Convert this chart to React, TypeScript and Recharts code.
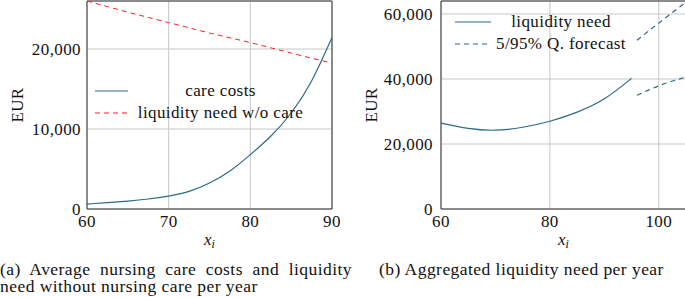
import React from "react"
import {
  CartesianGrid,
  Label,
  Legend,
  Line,
  LineChart,
  ReferenceArea,
  XAxis,
  YAxis,
} from "recharts"

// (a) care costs and liquidity need without care
const ages = [60, 62.5, 65, 67.5, 70, 72.5, 75, 77.5, 80, 82.5, 85, 87.5, 90]
const careCosts = [620, 790, 990, 1250, 1620, 2200, 3250, 4750, 6800, 9100, 12000, 16000, 21440]
const needNoCare = [26000, 25300, 24600, 23950, 23300, 22650, 22000, 21400, 20800, 20150, 19500, 18850, 18250]
const ticksXa = [60, 70, 80, 90]
const ticksYa = [0, 10000, 20000]

// (b) aggregated liquidity need
const needAges = [60, 65, 70, 75, 80, 85, 90, 95]
const needValues = [26400, 24800, 24250, 25150, 27000, 29800, 33900, 40200]
const forecastAges = [96, 98, 100, 102, 104, 105]
const forecastUpper = [51900, 54600, 57200, 59800, 62400, 63600]
const forecastLower = [35000, 36500, 37900, 39100, 40100, 40600]
const ticksXb = [60, 80, 100]
const ticksYb = [0, 20000, 40000, 60000]

const FONT = "'Liberation Serif', serif"
const BLUE = "#2a6b88"
const RED = "#ff2020"
const GRID = "#c6c6c6"
const FRAME = "#333"
const LS = 0.4

const dataA = ages.map((x, i) => ({ x, care: careCosts[i], noCare: needNoCare[i] }))

const dataB = (() => {
  const rows: Record<number, any> = {}
  needAges.forEach((x, i) => {
    rows[x] = { ...(rows[x] || { x }), need: needValues[i] }
  })
  forecastAges.forEach((x, i) => {
    rows[x] = { ...(rows[x] || { x }), upper: forecastUpper[i], lower: forecastLower[i] }
  })
  return Object.values(rows).sort((a: any, b: any) => a.x - b.x)
})()

const fmt = (v: number) => v.toLocaleString("en-US")
const tickStyle = { fontSize: 17, fill: "#111", fontFamily: FONT, letterSpacing: LS }

const XiLabel = (props: any) => {
  const { x, y, width } = props.viewBox
  return (
    <text x={x + width / 2} y={y + 36} textAnchor="middle" fontFamily={FONT} fill="#111">
      <tspan fontStyle="italic" fontSize={17}>x</tspan>
      <tspan fontStyle="italic" fontSize={12} dy={3}>i</tspan>
    </text>
  )
}

const EurLabel = (cx: number) => (props: any) => {
  const { x, y, height } = props.viewBox
  const px = x + cx
  const py = y + height / 2
  return (
    <text
      x={px}
      y={py}
      transform={`rotate(-90 ${px} ${py})`}
      textAnchor="middle"
      dominantBaseline="central"
      fontFamily={FONT}
      fontSize={17}
      letterSpacing={LS}
      fill="#111"
    >
      EUR
    </text>
  )
}

const legendContent = (order: string[], sampleW: number, gap: number, textW: number) => (props: any) => {
  const items = (props.payload || [])
    .filter((e: any) => e.type !== "none")
    .sort((a: any, b: any) => order.indexOf(a.dataKey) - order.indexOf(b.dataKey))
  return (
    <div style={{ fontFamily: FONT, fontSize: 17, letterSpacing: LS, color: "#111" }}>
      {items.map((e: any, i: number) => (
        <div key={i} style={{ display: "flex", alignItems: "center", height: 22 }}>
          <svg width={sampleW} height={22} style={{ display: "block", flex: "none" }}>
            <line
              x1={0}
              x2={sampleW}
              y1={11}
              y2={11}
              stroke={e.color}
              strokeWidth={1.2}
              strokeDasharray={e.payload?.strokeDasharray}
            />
          </svg>
          <span style={{ width: textW, marginLeft: gap, textAlign: "center", whiteSpace: "nowrap", lineHeight: "22px" }}>
            {e.value}
          </span>
        </div>
      ))}
    </div>
  )
}

const App = () => {
  return (
    <div
      style={{
        position: "absolute",
        left: 0,
        top: 0,
        width: 685,
        height: 297,
        overflow: "hidden",
        background: "#fff",
        fontFamily: FONT,
        color: "#111",
      }}
    >
      <div style={{ position: "absolute", left: 0, top: 0 }}>
        <LineChart width={340} height={254} data={dataA} margin={{ top: 1, right: 8, bottom: 0, left: 0 }}>
          <CartesianGrid stroke={GRID} />
          <XAxis
            dataKey="x"
            type="number"
            domain={[60, 90]}
            ticks={ticksXa}
            interval={0}
            height={45}
            tickSize={4}
            tickMargin={2}
            tickLine={false}
            axisLine={false}
            tick={tickStyle}
          >
            <Label content={<XiLabel />} />
          </XAxis>
          <YAxis
            type="number"
            domain={[0, 26000]}
            ticks={ticksYa}
            interval={0}
            width={87}
            tickSize={4}
            tickMargin={2}
            tickLine={false}
            axisLine={false}
            tick={tickStyle}
            tickFormatter={fmt}
            allowDataOverflow
          >
            <Label content={EurLabel(17)} />
          </YAxis>
          <ReferenceArea x1={60} x2={90} y1={0} y2={26000} fill="none" stroke={FRAME} strokeWidth={1} />
          <Legend
            layout="horizontal"
            verticalAlign="middle"
            align="center"
            wrapperStyle={{ left: 95, top: 80, width: 230 }}
            content={legendContent(["care", "noCare"], 33, 6, 173)}
          />
          <Line
            name="care costs"
            dataKey="care"
            type="natural"
            stroke={BLUE}
            strokeWidth={1.2}
            dot={false}
            isAnimationActive={false}
          />
          <Line
            name="liquidity need w/o care"
            dataKey="noCare"
            type="monotone"
            stroke={RED}
            strokeWidth={1}
            strokeDasharray="5 4"
            dot={false}
            isAnimationActive={false}
          />
        </LineChart>
      </div>

      <div style={{ position: "absolute", left: 340, top: 0 }}>
        <LineChart width={346} height={254} data={dataB} margin={{ top: 1, right: 0, bottom: 0, left: 0 }}>
          <CartesianGrid stroke={GRID} />
          <XAxis
            dataKey="x"
            type="number"
            domain={[60, 105]}
            ticks={ticksXb}
            interval={0}
            height={45}
            tickSize={4}
            tickMargin={2}
            tickLine={false}
            axisLine={false}
            tick={tickStyle}
          >
            <Label content={<XiLabel />} />
          </XAxis>
          <YAxis
            type="number"
            domain={[0, 64000]}
            ticks={ticksYb}
            interval={0}
            width={101}
            tickSize={5}
            tickMargin={3}
            tickLine={false}
            axisLine={false}
            tick={tickStyle}
            tickFormatter={fmt}
            allowDataOverflow
          >
            <Label content={EurLabel(31)} />
          </YAxis>
          <ReferenceArea x1={60} x2={105} y1={0} y2={64000} fill="none" stroke={FRAME} strokeWidth={1} />
          <Legend
            layout="horizontal"
            verticalAlign="middle"
            align="center"
            wrapperStyle={{ left: 115, top: 11, width: 190 }}
            content={legendContent(["need", "upper"], 36, 3, 134)}
          />
          <Line
            name="liquidity need"
            dataKey="need"
            type="natural"
            stroke={BLUE}
            strokeWidth={1.2}
            dot={false}
            isAnimationActive={false}
          />
          <Line
            name="5/95% Q. forecast"
            dataKey="upper"
            type="monotone"
            stroke={BLUE}
            strokeWidth={1.2}
            strokeDasharray="5 4"
            dot={false}
            isAnimationActive={false}
          />
          <Line
            name="lower forecast"
            dataKey="lower"
            type="monotone"
            stroke={BLUE}
            strokeWidth={1.2}
            strokeDasharray="5 4"
            dot={false}
            legendType="none"
            isAnimationActive={false}
          />
        </LineChart>
      </div>

      <div
        style={{
          position: "absolute",
          left: 0,
          top: 261,
          width: 352,
          fontSize: 17.5,
          letterSpacing: 0.45,
          lineHeight: "17.3px",
          textAlign: "justify",
        }}
      >
        (a) Average nursing care costs and liquidity need without nursing care per year
      </div>
      <div
        style={{
          position: "absolute",
          left: 379,
          top: 261,
          fontSize: 17.5,
          letterSpacing: 0.45,
          lineHeight: "17.3px",
          whiteSpace: "nowrap",
        }}
      >
        (b) Aggregated liquidity need per year
      </div>
    </div>
  )
}

export default App
